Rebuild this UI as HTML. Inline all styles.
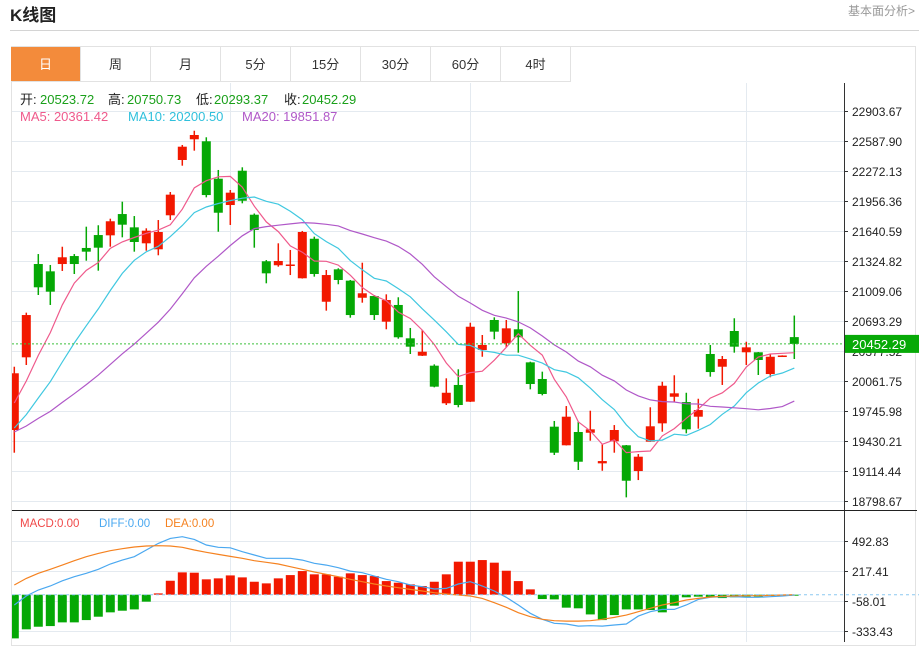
<!DOCTYPE html>
<html><head><meta charset="utf-8">
<style>
html,body{margin:0;padding:0;background:#fff;width:919px;height:642px;overflow:hidden;font-family:"Liberation Sans","Noto Sans CJK SC",sans-serif;}
#title{position:absolute;left:10px;top:1px;font-size:17px;font-weight:bold;color:#222;}
#more{position:absolute;right:4px;top:2px;font-size:12px;color:#999;}
#hr{position:absolute;left:10px;top:30px;width:909px;height:1px;background:#d4d4d4;}
#frame{position:absolute;left:11px;top:46px;width:905px;height:600px;border:1px solid #e2e2e2;box-sizing:border-box;}
.tab{position:absolute;top:47px;height:35px;width:70px;border-right:1px solid #e2e2e2;border-bottom:1px solid #e2e2e2;box-sizing:border-box;text-align:center;line-height:35px;font-size:13px;color:#333;}
.tab.act{background:#f38b3b;color:#fff;}
svg{position:absolute;left:0;top:0;}
</style></head><body>
<div id="title">K线图</div>
<div id="more">基本面分析&gt;</div>
<div id="hr"></div>
<div id="frame"></div>
<div class="tab act" style="left:11px">日</div>
<div class="tab" style="left:81px">周</div>
<div class="tab" style="left:151px">月</div>
<div class="tab" style="left:221px">5分</div>
<div class="tab" style="left:291px">15分</div>
<div class="tab" style="left:361px">30分</div>
<div class="tab" style="left:431px">60分</div>
<div class="tab" style="left:501px">4时</div>
<svg id="chart" width="919" height="642" xmlns="http://www.w3.org/2000/svg"></svg>
<script>
const opens=[19546,20311,21293,21216,21293,21377,21462,21598,21595,21819,21679,21511,21448,21806,22388,22606,22585,22191,21914,22275,21812,21322,21280,21277,21143,21559,20896,21237,21118,20938,20956,20686,20862,20511,20328,20223,19827,20020,19844,20388,20704,20458,20606,20258,20083,19581,19385,19525,19517,19195,19427,19385,19114,19423,19616,19896,19840,19686,20346,20212,20588,20364,20364,20135,20320,20523.72];
const highs=[20212,20781,21398,21283,21475,21398,21686,21701,21770,21949,21798,21669,21756,22051,22546,22696,22627,22283,22072,22311,21825,21335,21511,21441,21641,21581,21230,21248,21125,21307,20967,20974,20943,20620,20598,20237,20090,20185,20675,20546,20732,20704,21009,20265,20160,19641,19798,19633,19749,19395,19598,19388,19293,19785,20054,20122,19938,19875,20441,20325,20722,20475,20367,20346,20332,20750.73];
const lows=[19307,20230,20967,20862,21220,21188,21328,21223,21475,21574,21423,21433,21385,21756,22328,22486,21995,21633,21704,21932,21465,21090,21265,21177,21140,21160,20802,21080,20728,20886,20704,20606,20507,20346,20325,19995,19809,19785,19841,20317,20501,20416,20360,19974,19911,19283,19383,19125,19433,19117,19307,18837,19019,19420,19528,19840,19511,19560,20107,20020,20360,20230,20125,20101,20316,20293.37];
const closes=[20143,20756,21048,21002,21364,21293,21423,21465,21743,21707,21525,21644,21630,22023,22528,22651,22019,21833,22044,21959,21651,21195,21325,21288,21630,21188,21177,21125,20756,20985,20756,20914,20522,20423,20370,20002,19938,19809,20633,20441,20581,20616,20522,20030,19925,19307,19686,19212,19553,19219,19546,19012,19265,19585,20012,19932,19553,19756,20156,20293,20423,20416,20283,20317,20330,20452.29];
const priorCloses=[19500,19450,19520,19480,19460,19500,19470,19490,19480,19480,19350,19300,19280,19290,19300,19600,19700,19800,19908];
const priceTicks=[22903.67,22587.90,22272.13,21956.36,21640.59,21324.82,21009.06,20693.29,20377.52,20061.75,19745.98,19430.21,19114.44,18798.67];
const macdHist=[-401,-318,-294,-288,-254,-254,-233,-202,-162,-147,-135,-64,12,128,205,202,141,150,177,159,119,104,150,180,217,187,187,165,196,180,171,125,110,95,80,119,187,303,303,318,294,220,125,49,-40,-43,-119,-125,-181,-233,-187,-135,-135,-141,-162,-101,-24,-18,-24,-31,-24,-18,-18,-12,-6,-3];
const diffVals=[-95,-12,43,80,128,165,196,233,282,318,349,410,471,517,532,508,456,435,431,395,364,334,334,334,318,288,272,248,217,202,171,141,119,89,73,52,58,98,119,80,34,-24,-95,-171,-226,-263,-269,-288,-285,-288,-278,-269,-196,-156,-135,-135,-95,-43,-24,-18,-18,-24,-24,-18,-12,-3];
const deaVals=[89,150,196,233,272,312,349,379,404,422,438,447,450,447,435,410,389,370,352,334,312,297,282,257,233,208,187,165,141,119,98,80,64,49,34,18,6,-3,-12,-34,-73,-116,-165,-202,-226,-239,-242,-242,-239,-226,-208,-187,-156,-125,-95,-73,-49,-34,-21,-15,-12,-9,-9,-6,-3,0];
const macdTicks=[492.83,217.41,-58.01,-333.43];

const NS="http://www.w3.org/2000/svg";
const svg=document.getElementById('chart');
const RED="#f21800",GREEN="#05a805";
function xAt(i){return 14.3+12*i;}
function yP(v){return 111+(22903.67-v)/315.77*30;}
function yM(v){return 594.7-v/9.18;}
function mk(tag,attrs,parent){const e=document.createElementNS(NS,tag);for(const k in attrs)e.setAttribute(k,attrs[k]);(parent||svg).appendChild(e);return e;}

const defs=mk('defs',{});
const cp=mk('clipPath',{id:'plotclip'},defs);
mk('rect',{x:12,y:83,width:832,height:560},cp);

// grid
priceTicks.forEach((t,i)=>{
  const y=Math.round(yP(t))+0.5;
  const g=mk('line',{x1:12,x2:844,y1:y,y2:y,stroke:'#e4eaf0','stroke-width':1});
  
  
  const tk=mk('line',{x1:844,x2:848,y1:y,y2:y,stroke:'#333'});
  
  
  const tx=mk('text',{x:852,y:y+4.5,'font-size':12,fill:'#222','font-family':'Liberation Sans, sans-serif'});
  tx.textContent=t.toFixed(2);
  
  
});
[230.5,470.5,746.5].forEach(x=>{
  const l=mk('line',{x1:x,x2:x,y1:83,y2:642,stroke:'#e4eaf0'});
  
  
});
macdTicks.forEach(t=>{
  const y=Math.round(yM(t))+0.5;
  const g=mk('line',{x1:12,x2:844,y1:y,y2:y,stroke:'#e4eaf0'});
  
  
  const tk=mk('line',{x1:844,x2:848,y1:y,y2:y,stroke:'#333'});
  
  
  const tx=mk('text',{x:852,y:y+4.5,'font-size':12,fill:'#222'});
  tx.textContent=t.toFixed(2);
  
  
});

// axes
const ax=mk('line',{x1:844.5,x2:844.5,y1:83,y2:642,stroke:'#333'});


const sep=mk('line',{x1:12,x2:917,y1:510.5,y2:510.5,stroke:'#222'});



const gP=mk('g',{'clip-path':'url(#plotclip)'});
// candles
for(let i=0;i<closes.length;i++){
  const up=closes[i]>=opens[i];const c=up?RED:GREEN;const x=xAt(i);
  const w=mk('line',{x1:x,x2:x,y1:yP(highs[i]),y2:yP(lows[i]),stroke:c,'stroke-width':1.5},gP);
  
  
  const t=yP(Math.max(opens[i],closes[i])),b=yP(Math.min(opens[i],closes[i]));
  const r=mk('rect',{x:x-4.5,y:t,width:9,height:Math.max(1.5,b-t),fill:c},gP);
  
  
}
// MAs
const all=priorCloses.concat(closes);const P=priorCloses.length;
function ma(n){const o=[];for(let i=0;i<closes.length;i++){let s=0;for(let k=0;k<n;k++)s+=all[P+i-k];o.push(s/n);}return o;}
[[5,'#ef5a8c','ma5-line'],[10,'#40c8e0','ma10-line'],[20,'#b058c8','ma20-line']].forEach(([n,col,name])=>{
  const v=ma(n);
  const p=mk('polyline',{points:v.map((m,i)=>xAt(i)+','+yP(m).toFixed(1)).join(' '),fill:'none',stroke:col,'stroke-width':1.2},gP);
  
  
});
// current price line
const last=closes[closes.length-1];
const cl=mk('line',{x1:12,x2:844,y1:yP(last),y2:yP(last),stroke:'#3cc03c','stroke-dasharray':'2,2','stroke-width':1});


const pb=mk('rect',{x:845,y:yP(last)-9,width:74,height:18,fill:'#07a907'});


const pt=mk('text',{x:852,y:yP(last)+5,'font-size':13,fill:'#fff'});
pt.textContent=last.toFixed(2);



// MACD
const gM=mk('g',{'clip-path':'url(#plotclip)'});
const zl=mk('line',{x1:12,x2:919,y1:yM(0),y2:yM(0),stroke:'#8cc8f0','stroke-dasharray':'3,3'});


macdHist.forEach((v,i)=>{
  const y0=yM(0),y1=yM(v);
  const r=mk('rect',{x:xAt(i)-4.5,y:Math.min(y0,y1),width:9,height:Math.max(1,Math.abs(y1-y0)),fill:v>=0?RED:GREEN},gM);
  
  
});
const dl=mk('polyline',{points:diffVals.map((v,i)=>xAt(i)+','+yM(v).toFixed(1)).join(' '),fill:'none',stroke:'#4aa8f0','stroke-width':1.2},gM);


const el=mk('polyline',{points:deaVals.map((v,i)=>xAt(i)+','+yM(v).toFixed(1)).join(' '),fill:'none',stroke:'#f58220','stroke-width':1.2},gM);



// legends
function txt(x,y,s,col,size,name){const t=mk('text',{x:x,y:y,'font-size':size,fill:col,'font-family':'Liberation Sans, Noto Sans CJK SC, sans-serif'});t.textContent=s;return t;}
const g1='#1aa01a';
txt(20,104,'开:','#222',13,'open-label');txt(40,104,'20523.72',g1,13,'open-value');
txt(108,104,'高:','#222',13,'high-label');txt(127,104,'20750.73',g1,13,'high-value');
txt(196,104,'低:','#222',13,'low-label');txt(214,104,'20293.37',g1,13,'low-value');
txt(284,104,'收:','#222',13,'close-label');txt(302,104,'20452.29',g1,13,'close-value');
txt(20,121,'MA5: 20361.42','#ef5a8c',13,'ma5-legend');
txt(128,121,'MA10: 20200.50','#30c0dc',13,'ma10-legend');
txt(242,121,'MA20: 19851.87','#b058c8',13,'ma20-legend');
txt(20,527,'MACD:0.00','#f04848',11.5,'macd-legend');
txt(99,527,'DIFF:0.00','#4aa8f0',11.5,'diff-legend');
txt(165,527,'DEA:0.00','#f58220',11.5,'dea-legend');
</script>
</body></html>
